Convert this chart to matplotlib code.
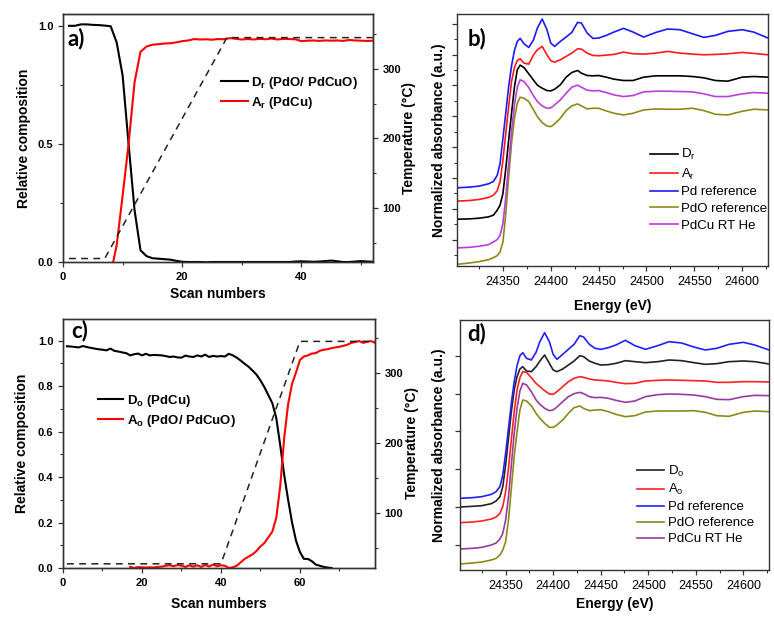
import numpy as np
import matplotlib
matplotlib.use("Agg")
import matplotlib.pyplot as plt
from matplotlib.ticker import MultipleLocator, FixedLocator

plt.rcParams['font.family'] = ['Liberation Sans', 'DejaVu Sans']
plt.rcParams['mathtext.fontset'] = 'custom'
plt.rcParams['mathtext.rm'] = 'Liberation Sans'
plt.rcParams['mathtext.bf'] = 'Liberation Sans:bold'

# ---------------- panel a data ----------------
scan_a = np.arange(1, 53)
D_r = [1.000, 1.000, 1.006, 1.006, 1.004, 1.003, 1.001, 0.998, 0.93, 0.79,
       0.50, 0.22, 0.05, 0.025, 0.016, 0.014, 0.012, 0.010, 0.005, 0.001,
       0.0, 0.0, 0.0, -0.001, 0.0, 0.0, 0.0, 0.0, 0.0, 0.0,
       0.0, 0.0, 0.0, 0.0, 0.0, 0.0, 0.0, 0.0, 0.002, 0.003,
       0.002, 0.001, 0.002, 0.004, 0.006, 0.003, 0.0, 0.0, 0.002, 0.004,
       0.002, 0.001]
scan_a_A = np.arange(8, 53)
A_r = [-0.05, 0.07, 0.28, 0.50, 0.76, 0.89, 0.912, 0.92, 0.922, 0.925,
       0.926, 0.93, 0.935, 0.938, 0.944, 0.942, 0.943, 0.941, 0.944, 0.943,
       0.948, 0.945, 0.942, 0.944, 0.942, 0.945, 0.943, 0.946, 0.942, 0.945,
       0.944, 0.943, 0.935, 0.937, 0.938, 0.936, 0.938, 0.937, 0.938, 0.936,
       0.94, 0.938, 0.937, 0.936, 0.937]
temp_scan_a = [1, 7, 27.5, 52]
temp_a = [27, 27, 345, 345]

# ---------------- panel c data ----------------
scan_c_D = np.arange(1, 69)
D_o = [0.975, 0.974, 0.972, 0.970, 0.976, 0.972, 0.968, 0.965, 0.962, 0.960,
       0.957, 0.965, 0.955, 0.952, 0.948, 0.945, 0.935, 0.940, 0.943, 0.935,
       0.942, 0.935, 0.937, 0.936, 0.935, 0.932, 0.928, 0.930, 0.926, 0.925,
       0.934, 0.930, 0.928, 0.935, 0.930, 0.938, 0.928, 0.933, 0.930, 0.932,
       0.930, 0.942, 0.935, 0.925, 0.912, 0.898, 0.885, 0.868, 0.850, 0.825,
       0.795, 0.760, 0.725, 0.660, 0.540, 0.410, 0.300, 0.200, 0.120, 0.070,
       0.040, 0.040, 0.030, 0.015, 0.010, 0.005, 0.002, 0.0]
scan_c_A = np.arange(17, 80)
A_o = [0.005, 0.0, 0.004, 0.003, 0.002, 0.003, 0.002, 0.005, 0.006, 0.010,
       0.012, 0.008, 0.013, 0.010, 0.005, 0.012, 0.006, 0.012, 0.005, 0.013,
       0.007, 0.015, 0.008, 0.012, 0.010, 0.0, 0.003, 0.010, 0.025, 0.040,
       0.050, 0.060, 0.075, 0.095, 0.110, 0.135, 0.160, 0.220, 0.360, 0.570,
       0.720, 0.810, 0.860, 0.915, 0.930, 0.935, 0.943, 0.945, 0.955, 0.960,
       0.962, 0.967, 0.970, 0.973, 0.977, 0.982, 0.990, 0.994, 0.998, 0.990,
       0.995, 0.998, 0.990]
temp_scan_c = [1, 40, 60, 79]
temp_c = [27, 27, 345, 345]

# ---------------- XANES data (normalized absorbance, a.u., offset stacks) ----------------
energy = [24302, 24315, 24325, 24335, 24340, 24344, 24347, 24350, 24353, 24356,
          24359, 24362, 24365, 24368, 24372, 24377, 24382, 24386, 24391, 24396,
          24400, 24404, 24410, 24416, 24422, 24428, 24432, 24438, 24444, 24450,
          24458, 24466, 24476, 24486, 24497, 24510, 24522, 24535, 24548, 24560,
          24572, 24585, 24600, 24612, 24627]

b_D_r = [3.43, 3.44, 3.46, 3.50, 3.55, 3.70, 3.85, 4.20, 4.95, 5.80,
         6.60, 7.38, 7.90, 8.04, 7.97, 7.78, 7.59, 7.44, 7.35, 7.28,
         7.27, 7.32, 7.45, 7.68, 7.82, 7.88, 7.80, 7.73, 7.72, 7.73,
         7.68, 7.62, 7.58, 7.58, 7.68, 7.72, 7.72, 7.72, 7.70, 7.66,
         7.58, 7.56, 7.68, 7.70, 7.68]
b_A_r = [3.97, 3.99, 4.02, 4.08, 4.15, 4.28, 4.55, 5.20, 6.00, 6.80,
         7.55, 7.97, 8.18, 8.23, 8.10, 8.07, 8.35, 8.50, 8.60, 8.35,
         8.17, 8.13, 8.20, 8.30, 8.40, 8.53, 8.52, 8.40, 8.33, 8.32,
         8.34, 8.36, 8.43, 8.38, 8.37, 8.40, 8.45, 8.40, 8.37, 8.35,
         8.36, 8.38, 8.42, 8.39, 8.35]
b_Pd = [4.37, 4.39, 4.42, 4.49, 4.56, 4.74, 5.10, 5.85, 6.62, 7.40,
        8.02, 8.48, 8.75, 8.84, 8.68, 8.57, 8.80, 9.15, 9.42, 9.10,
        8.70, 8.60, 8.75, 8.88, 9.02, 9.32, 9.30, 9.00, 8.84, 8.85,
        8.93, 9.03, 9.14, 9.03, 8.88, 9.02, 9.12, 9.10, 8.98, 8.87,
        8.93, 9.05, 9.10, 9.03, 8.85]
b_PdO = [2.08, 2.12, 2.16, 2.22, 2.28, 2.34, 2.45, 2.75, 3.60, 4.70,
         5.70, 6.45, 6.90, 7.08, 7.05, 6.95, 6.70, 6.50, 6.32, 6.22,
         6.20, 6.28, 6.45, 6.68, 6.82, 6.88, 6.82, 6.73, 6.75, 6.75,
         6.67, 6.60, 6.55, 6.60, 6.70, 6.73, 6.72, 6.72, 6.75, 6.68,
         6.57, 6.55, 6.66, 6.72, 6.70]
b_PdCu = [2.57, 2.59, 2.62, 2.67, 2.75, 2.82, 2.95, 3.30, 4.10, 5.10,
          6.05, 6.85, 7.38, 7.60, 7.55, 7.37, 7.12, 6.95, 6.82, 6.75,
          6.76, 6.85, 7.00, 7.20, 7.38, 7.44, 7.38, 7.29, 7.27, 7.28,
          7.22, 7.15, 7.10, 7.13, 7.24, 7.26, 7.26, 7.25, 7.24, 7.18,
          7.10, 7.10, 7.18, 7.22, 7.20]

d_D_o = [4.24, 4.26, 4.28, 4.34, 4.42, 4.55, 4.85, 5.50, 6.30, 7.10,
         7.75, 8.15, 8.38, 8.45, 8.32, 8.30, 8.45, 8.62, 8.80, 8.55,
         8.35, 8.30, 8.38, 8.50, 8.62, 8.78, 8.75, 8.62, 8.55, 8.50,
         8.51, 8.55, 8.63, 8.60, 8.57, 8.60, 8.65, 8.63, 8.57, 8.52,
         8.54, 8.60, 8.62, 8.60, 8.53]
d_A_o = [3.77, 3.79, 3.82, 3.88, 3.94, 4.05, 4.25, 4.70, 5.40, 6.25,
         7.10, 7.75, 8.12, 8.30, 8.28, 8.12, 7.95, 7.85, 7.73, 7.63,
         7.62, 7.70, 7.85, 8.00, 8.10, 8.15, 8.13, 8.08, 8.05, 8.04,
         8.02, 7.98, 7.94, 7.95, 8.02, 8.04, 8.05, 8.04, 8.03, 8.02,
         7.98, 7.98, 8.00, 8.00, 7.99]
d_Pd = [4.50, 4.52, 4.55, 4.62, 4.70, 4.85, 5.20, 5.85, 6.60, 7.35,
        8.00, 8.48, 8.78, 8.87, 8.70, 8.65, 8.88, 9.20, 9.47, 9.20,
        8.82, 8.67, 8.82, 8.97, 9.12, 9.38, 9.34, 9.12, 9.00, 8.97,
        9.02, 9.10, 9.24, 9.08, 8.97, 9.08, 9.20, 9.16, 9.04, 8.95,
        9.00, 9.12, 9.18, 9.10, 8.95]
d_PdO = [2.53, 2.56, 2.59, 2.65, 2.70, 2.80, 2.95, 3.20, 3.85, 4.80,
         5.75, 6.50, 7.15, 7.45, 7.42, 7.28, 7.05, 6.90, 6.75, 6.63,
         6.63, 6.70, 6.85, 7.05, 7.22, 7.27, 7.20, 7.13, 7.15, 7.16,
         7.10, 7.02, 6.95, 6.98, 7.09, 7.12, 7.12, 7.12, 7.13, 7.08,
         6.98, 6.96, 7.08, 7.12, 7.10]
d_PdCu = [2.98, 3.00, 3.03, 3.10, 3.16, 3.28, 3.45, 3.85, 4.55, 5.50,
          6.45, 7.20, 7.72, 7.95, 7.90, 7.70, 7.45, 7.32, 7.20, 7.13,
          7.15, 7.24, 7.40, 7.55, 7.64, 7.68, 7.64, 7.55, 7.52, 7.53,
          7.50, 7.44, 7.38, 7.42, 7.55, 7.61, 7.63, 7.62, 7.60, 7.55,
          7.47, 7.46, 7.55, 7.59, 7.58]

labels_b = ['D$_\\mathregular{r}$', 'A$_\\mathregular{r}$', 'Pd reference', 'PdO reference', 'PdCu RT He']
labels_d = ['D$_\\mathregular{o}$', 'A$_\\mathregular{o}$', 'Pd reference', 'PdO reference', 'PdCu RT He']
energy_ticks = [24350, 24400, 24450, 24500, 24550, 24600]

# ---------------- figure ----------------
fig = plt.figure(figsize=(7.74, 6.21), dpi=100)
W, H = 774, 621

def px_axes(l, t, r, b):
    return fig.add_axes([l / W, 1 - b / H, (r - l) / W, (b - t) / H])

spine_c = '#333333'
tick_kw = dict(direction='out', length=3.5, width=0.9, color=spine_c)

def style_spines(ax):
    for s in ax.spines.values():
        s.set_color(spine_c)
        s.set_linewidth(1.0)

label_kw = dict(fontsize=10, fontweight='bold')
panel_kw = dict(fontsize=16, fontweight='bold', family=['Lato', 'DejaVu Sans'])

# ---- panel a ----
axa = px_axes(63, 14, 373, 262)
axa.plot(scan_a, D_r, color='black', lw=1.5, label='D$_\\mathregular{r}$ (PdO/ PdCuO)')
axa.plot(scan_a_A, A_r, color='#ff0000', lw=1.5, label='A$_\\mathregular{r}$ (PdCu)')
axa.set_xlim(0, 52)
axa.set_ylim(0, 1.05)
axa.xaxis.set_major_locator(MultipleLocator(20))
axa.xaxis.set_minor_locator(MultipleLocator(10))
axa.yaxis.set_major_locator(FixedLocator([0.0, 0.5, 1.0]))
axa.yaxis.set_minor_locator(MultipleLocator(0.25))
axa.set_yticklabels(['0.0', '0.5', '1.0'])
axa2 = axa.twinx()
axa2.plot(temp_scan_a, temp_a, color='#222222', lw=1.1, ls=(0, (4.5, 3.5)))
axa2.set_ylim(22, 379)
axa2.yaxis.set_major_locator(MultipleLocator(100))
axa2.yaxis.set_minor_locator(MultipleLocator(50))
axa.text(0.016, 0.945, 'a)', transform=axa.transAxes, va='top', ha='left', **panel_kw)
axa.legend(loc='upper left', bbox_to_anchor=(0.49, 0.781), frameon=False, borderpad=0,
           handlelength=2.0, handletextpad=0.25, labelspacing=0.3,
           prop=dict(size=9.5, weight='bold'))
axa.set_xlabel('Scan numbers', **label_kw)
axa.xaxis.set_label_coords(0.5, -0.10)
axa.set_ylabel('Relative composition', **label_kw)
axa.yaxis.set_label_coords(-0.103, 0.5)
axa2.set_ylabel('Temperature (°C)', **label_kw)
axa2.yaxis.set_label_coords(1.094, 0.5)

# ---- panel c ----
axc = px_axes(63, 319, 375, 568)
axc.plot(scan_c_D, D_o, color='black', lw=1.5, label='D$_\\mathregular{o}$ (PdCu)')
axc.plot(scan_c_A, A_o, color='#ff0000', lw=1.5, label='A$_\\mathregular{o}$ (PdO/ PdCuO)')
axc.set_xlim(0, 79)
axc.set_ylim(0, 1.095)
axc.xaxis.set_major_locator(MultipleLocator(20))
axc.xaxis.set_minor_locator(MultipleLocator(10))
axc.yaxis.set_major_locator(FixedLocator([0.0, 0.2, 0.4, 0.6, 0.8, 1.0]))
axc.yaxis.set_minor_locator(MultipleLocator(0.1))
axc.set_yticklabels(['0.0', '0.2', '0.4', '0.6', '0.8', '1.0'])
axc2 = axc.twinx()
axc2.plot(temp_scan_c, temp_c, color='#222222', lw=1.1, ls=(0, (4.5, 3.5)))
axc2.set_ylim(21, 377)
axc2.yaxis.set_major_locator(MultipleLocator(100))
axc2.yaxis.set_minor_locator(MultipleLocator(50))
axc.text(0.025, 0.998, 'c)', transform=axc.transAxes, va='top', ha='left', **panel_kw)
axc.legend(loc='upper left', bbox_to_anchor=(0.092, 0.73), frameon=False, borderpad=0,
           handlelength=1.9, handletextpad=0.25, labelspacing=0.3,
           prop=dict(size=9.5, weight='bold'))
axc.set_xlabel('Scan numbers', **label_kw)
axc.xaxis.set_label_coords(0.5, -0.116)
axc.set_ylabel('Relative composition', **label_kw)
axc.yaxis.set_label_coords(-0.109, 0.5)
axc2.set_ylabel('Temperature (°C)', **label_kw)
axc2.yaxis.set_label_coords(1.096, 0.5)

for ax in (axa, axc, axa2, axc2):
    style_spines(ax)
    ax.tick_params(which='major', **tick_kw)
    ax.tick_params(which='minor', direction='out', length=2.5, width=0.8, color=spine_c)
    for lab in ax.get_xticklabels() + ax.get_yticklabels():
        lab.set_fontsize(8)
        lab.set_fontweight('bold')

# ---- panels b and d ----
cols = ['black', '#ff1a1a', '#1a1aff', '#8a8a1a', '#b840d8']
cols_d = ['#222222', '#ff2020', '#2020ff', '#8a8a1a', '#9a3aa0']

def spectra(ax, series, labels, colors, leg_anchor, spacing):
    for y, lab, c in zip(series, labels, colors):
        ax.plot(energy, y, color=c, lw=1.2, label=lab)
    ax.set_xlim(24302, 24627)
    ax.xaxis.set_major_locator(FixedLocator(energy_ticks))
    ax.xaxis.set_minor_locator(MultipleLocator(25))
    ax.set_xlabel('Energy (eV)', **label_kw)
    ax.set_ylabel('Normalized absorbance (a.u.)', fontsize=10, fontweight='bold')
    ax.legend(loc='upper left', bbox_to_anchor=leg_anchor, frameon=False, borderpad=0,
              handlelength=2.1, handletextpad=0.25, labelspacing=spacing,
              prop=dict(size=9.5))
    style_spines(ax)
    ax.tick_params(which='major', **tick_kw)
    ax.tick_params(which='minor', direction='out', length=2.2, width=0.8, color=spine_c)
    ax.tick_params(axis='x', labelsize=9)

axb = px_axes(457, 14, 768, 266)
spectra(axb, [b_D_r, b_A_r, b_Pd, b_PdO, b_PdCu], labels_b, cols, (0.60, 0.497), 0.33)
axb.set_ylim(2.03, 9.57)
axb.yaxis.set_major_locator(MultipleLocator(0.9225, offset=2.82))
axb.yaxis.set_minor_locator(MultipleLocator(0.46125, offset=2.82))
axb.set_yticklabels([])
axb.text(0.035, 0.945, 'b)', transform=axb.transAxes, va='top', ha='left', **panel_kw)
axb.xaxis.set_label_coords(0.5, -0.131)
axb.yaxis.set_label_coords(-0.035, 0.5)

axd = px_axes(460, 320, 769, 570)
spectra(axd, [d_D_o, d_A_o, d_Pd, d_PdO, d_PdCu], labels_d, cols_d, (0.55, 0.452), 0.28)
axd.set_ylim(2.35, 9.85)
axd.yaxis.set_major_locator(MultipleLocator(1.136, offset=3.10))
axd.yaxis.set_minor_locator(FixedLocator([]))
axd.set_yticklabels([])
axd.text(0.023, 0.99, 'd)', transform=axd.transAxes, va='top', ha='left', **panel_kw)
axd.xaxis.set_label_coords(0.5, -0.108)
axd.yaxis.set_label_coords(-0.045, 0.5)

fig.savefig('out.png', dpi=100)
